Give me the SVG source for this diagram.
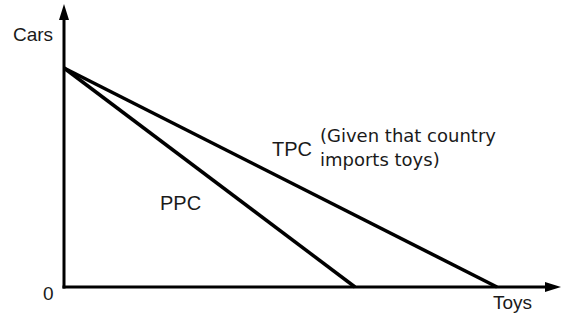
<svg xmlns="http://www.w3.org/2000/svg" width="564" height="320" viewBox="0 0 564 320">
<style>
.ax{stroke:#000;stroke-width:3;fill:none}
.ah{fill:#000}
.ln{stroke:#000;stroke-width:3.5;fill:none}
text{font-family:"Liberation Sans",Arial,sans-serif;fill:#1a1a1a}
.lb{font-size:19px}
.nt{font-family:"DejaVu Sans","Noto Sans",sans-serif;font-size:18px}
</style>
<rect width="564" height="320" fill="#fff"/>
<g id="connectors">
<path class="ax" d="M64,288.5 L64,16"/>
<polygon class="ah" points="64,4 69,20 59,20"/>
<path class="ax" d="M62.5,287 L548,287"/>
<polygon class="ah" points="561,287 545,282 545,292"/>
<path class="ln" d="M64,68 L355,287"/>
<path class="ln" d="M64,68 L497,287"/>
</g>
<g id="labels">
<text class="lb" x="13" y="41">Cars</text>
<text class="lb" x="43" y="300">0</text>
<text class="lb" x="493" y="309">Toys</text>
<text x="272" y="156" font-size="20">TPC</text>
<text class="nt" x="320" y="142">(Given that country</text>
<text class="nt" x="320" y="166">imports toys)</text>
<text x="160" y="210" font-size="20">PPC</text>
</g>
</svg>
